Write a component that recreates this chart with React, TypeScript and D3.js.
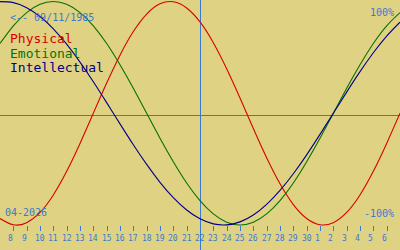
import React from "react";
import * as d3 from "d3";

// Day-of-month for each sampled point (7 Apr .. 7 May)
const dayNums = [7, 8, 9, 10, 11, 12, 13, 14, 15, 16, 17, 18, 19, 20, 21, 22, 23, 24, 25, 26, 27, 28, 29, 30, 1, 2, 3, 4, 5, 6, 7];
// Tick labels (8 Apr .. 6 May)
const tickLabels = dayNums.slice(1, 30);
const currentDayIndex = 15; // 22nd

const physical = [-0.942, -0.998, -0.979, -0.888, -0.731, -0.52, -0.27, 0, 0.27, 0.52, 0.731, 0.888, 0.979, 0.998, 0.942, 0.817, 0.631, 0.398, 0.136, -0.136, -0.398, -0.631, -0.817, -0.942, -0.998, -0.979, -0.888, -0.731, -0.52, -0.27, 0];
const emotional = [0.624, 0.782, 0.901, 0.975, 1, 0.975, 0.901, 0.782, 0.624, 0.434, 0.223, 0, -0.223, -0.434, -0.624, -0.782, -0.901, -0.975, -1, -0.975, -0.901, -0.782, -0.624, -0.434, -0.223, 0, 0.223, 0.434, 0.624, 0.782, 0.901];
const intellectual = [0.999, 0.99, 0.945, 0.866, 0.756, 0.618, 0.458, 0.282, 0.095, -0.095, -0.282, -0.458, -0.618, -0.756, -0.866, -0.945, -0.99, -0.999, -0.972, -0.91, -0.815, -0.69, -0.541, -0.372, -0.189, 0, 0.189, 0.372, 0.541, 0.69, 0.815];

const seriesNames = ["Physical", "Emotional", "Intellectual"];
const seriesColors = ["#d80000", "#087008", "#000088"];
const seriesData = [physical, emotional, intellectual];

const birthLabel = "<-- 09/11/1985";
const monthLabel = "04-2026";
const topLabel = "100%";
const bottomLabel = "-100%";

const W = 400;
const H = 250;
const BG = "#e0d283";
const AXIS = "#3a7acc";
const FONT = "'DejaVu Sans Mono', monospace";

export default function App() {
  const x = d3.scaleLinear().domain([0, dayNums.length - 1]).range([0, W]);
  const y = d3.scaleLinear().domain([-1, 1]).range([225, 1.5]);
  const line = d3
    .line<number>()
    .x((_, i) => x(i))
    .y((d) => y(d))
    .curve(d3.curveNatural);

  const midY = 115;
  const cx = x(currentDayIndex);

  return (
    <svg
      width={W}
      height={H}
      style={{ position: "absolute", left: 0, top: 0, display: "block" }}
    >
      <rect x={0} y={0} width={W} height={H} fill={BG} />
      {/* midline & current day line */}
      <line x1={0} x2={W} y1={midY + 0.5} y2={midY + 0.5} stroke={AXIS} strokeWidth={1} shapeRendering="crispEdges" />
      <line x1={Math.round(cx) + 0.5} x2={Math.round(cx) + 0.5} y1={0} y2={H} stroke={AXIS} strokeWidth={1} shapeRendering="crispEdges" />

      {seriesData.map((s, i) => (
        <path key={seriesNames[i]} d={line(s) || ""} fill="none" stroke={seriesColors[i]} strokeWidth={1.1} />
      ))}

      {/* ticks */}
      {tickLabels.map((lab, i) => {
        const tx = Math.round(x(i + 1)) + 0.5;
        return (
          <g key={i}>
            <line x1={tx} x2={tx} y1={226} y2={231} stroke={AXIS} strokeWidth={1} shapeRendering="crispEdges" />
            <text x={tx - 5.5} y={240.5} fill={AXIS} fontSize={8} fontFamily={FONT}>
              {lab}
            </text>
          </g>
        );
      })}

      {/* labels */}
      <text x={10} y={21} fill={AXIS} fontSize={10} fontFamily={FONT}>
        {birthLabel}
      </text>
      {seriesNames.map((n, i) => (
        <text key={n} x={10} y={43 + i * 14.5} fill={seriesColors[i]} fontSize={13} fontFamily={FONT}>
          {n}
        </text>
      ))}
      <text x={5} y={216} fill={AXIS} fontSize={10} fontFamily={FONT}>
        {monthLabel}
      </text>
      <text x={394} y={16} fill={AXIS} fontSize={10} fontFamily={FONT} textAnchor="end">
        {topLabel}
      </text>
      <text x={394} y={217} fill={AXIS} fontSize={10} fontFamily={FONT} textAnchor="end">
        {bottomLabel}
      </text>
    </svg>
  );
}
